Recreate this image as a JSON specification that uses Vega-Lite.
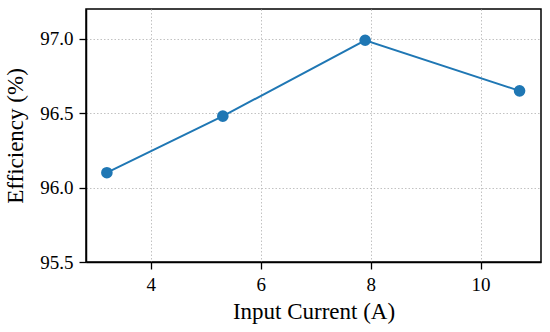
{
  "$schema": "https://vega.github.io/schema/vega-lite/v6.json",
  "width": 455,
  "height": 253,
  "autosize": {"type": "none"},
  "padding": {"left": 86, "top": 9, "right": 9, "bottom": 70},
  "background": "white",
  "data": {"values": [
    {"current": 3.2, "efficiency": 96.1},
    {"current": 5.31, "efficiency": 96.48},
    {"current": 7.9, "efficiency": 96.99},
    {"current": 10.71, "efficiency": 96.65}
  ]},
  "config": {
    "font": "Liberation Serif",
    "view": {"stroke": "black", "strokeWidth": 1.5},
    "axis": {
      "labelFont": "Liberation Serif",
      "titleFont": "Liberation Serif",
      "labelFontSize": 19,
      "titleFontSize": 23,
      "titleFontWeight": "normal",
      "labelColor": "black",
      "titleColor": "black",
      "domainColor": "black",
      "domainWidth": 1.5,
      "tickColor": "black",
      "tickWidth": 1.3,
      "tickSize": 7,
      "gridColor": "#bbbbbb",
      "gridDash": [1.5, 2],
      "gridWidth": 0.9
    }
  },
  "encoding": {
    "x": {
      "field": "current",
      "type": "quantitative",
      "title": "Input Current (A)",
      "scale": {"domain": [2.82, 11.1], "nice": false, "zero": false},
      "axis": {"values": [4, 6, 8, 10], "labelPadding": 6, "titlePadding": 6}
    },
    "y": {
      "field": "efficiency",
      "type": "quantitative",
      "title": "Efficiency (%)",
      "scale": {"domain": [95.5, 97.2], "nice": false, "zero": false},
      "axis": {"values": [95.5, 96.0, 96.5, 97.0], "format": ".1f", "labelPadding": 6, "titlePadding": 12}
    }
  },
  "layer": [
    {"mark": {"type": "line", "color": "#1f77b4", "strokeWidth": 2}},
    {"mark": {"type": "point", "filled": true, "color": "#1f77b4", "size": 135, "opacity": 1}}
  ]
}
